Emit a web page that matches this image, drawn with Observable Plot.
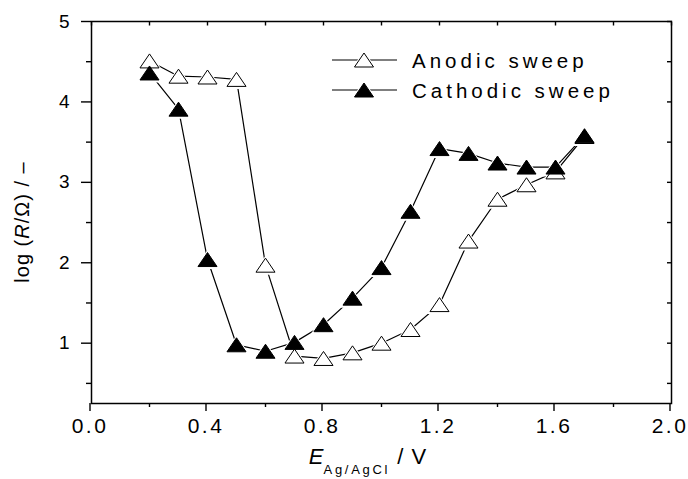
<!DOCTYPE html>
<html>
<head>
<meta charset="utf-8">
<script src="https://cdn.jsdelivr.net/npm/d3@7"></script>
<script src="https://cdn.jsdelivr.net/npm/@observablehq/plot@0.6"></script>
<style>
  body { margin: 0; background: white; }
  svg text { font-family: "Liberation Sans", Arial, sans-serif; }
  g[aria-label="x-axis tick label"] text { letter-spacing: 2.5px; font-size: 21px; }
  g[aria-label="y-axis tick label"] text { font-size: 19px; }
</style>
</head>
<body>
<div id="chart"></div>
<script>
// ---- data ----
const potential = [0.2, 0.3, 0.4, 0.5, 0.6, 0.7, 0.8, 0.9, 1.0, 1.1, 1.2, 1.3, 1.4, 1.5, 1.6, 1.7];
const anodic    = [4.51, 4.32, 4.31, 4.28, 1.97, 0.84, 0.81, 0.88, 1.00, 1.17, 1.48, 2.27, 2.79, 2.97, 3.13, 3.57];
const cathodic  = [4.36, 3.91, 2.04, 0.98, 0.90, 1.01, 1.23, 1.56, 1.94, 2.64, 3.42, 3.36, 3.24, 3.19, 3.19, 3.58];
const seriesNames = ["Anodic sweep", "Cathodic sweep"];
const xMajorTicks = [0.0, 0.4, 0.8, 1.2, 1.6, 2.0];
const xMinorTicks = [0.2, 0.6, 1.0, 1.4, 1.8];
const yMajorTicks = [1, 2, 3, 4, 5];
const yMinorTicks = [0.5, 1.5, 2.5, 3.5, 4.5];

const rows = [
  ...potential.map((e, i) => ({E: e, logR: anodic[i], series: seriesNames[0]})),
  ...potential.map((e, i) => ({E: e, logR: cathodic[i], series: seriesNames[1]}))
];

// flattened triangle symbol (wider than tall, like the original)
const flatTri = {
  draw(ctx, size) {
    const r = Math.sqrt(size / Math.PI);
    const hw = 1.36 * r, h = r;
    ctx.moveTo(0, -h);
    ctx.lineTo(hw, h);
    ctx.lineTo(-hw, h);
    ctx.closePath();
  }
};

const W = 688, H = 479, ML = 91, MR = 17, MT = 21, MB = 76;
const allX = [...xMajorTicks, ...xMinorTicks];
const allY = [...yMajorTicks, ...yMinorTicks];

const svg = Plot.plot({
  width: W, height: H,
  marginLeft: ML, marginRight: MR, marginTop: MT, marginBottom: MB,
  x: {domain: [0, 2]},
  y: {domain: [0.25, 5]},
  style: {fontFamily: "Liberation Sans, Arial, sans-serif", fontSize: "19px", color: "black", background: "white", overflow: "visible"},
  marks: [
    Plot.axisX({ticks: xMajorTicks, tickSize: 8, tickPadding: 7, tickFormat: d => d.toFixed(1), label: null, strokeWidth: 1.4, fontSize: 21, dx: -1.5}),
    Plot.axisX({ticks: xMinorTicks, tickSize: 4, text: null, label: null, strokeWidth: 1.4}),
    Plot.axisX({anchor: "top", ticks: allX, tickSize: -3.5, text: null, label: null, strokeWidth: 1.4}),
    Plot.axisY({ticks: yMajorTicks, tickSize: 10, tickPadding: 12, tickFormat: d => String(d), label: null, strokeWidth: 1.4, fontSize: 19}),
    Plot.axisY({ticks: yMinorTicks, tickSize: 5, text: null, label: null, strokeWidth: 1.4}),
    Plot.axisY({anchor: "right", ticks: allY, tickSize: -5, text: null, label: null, strokeWidth: 1.4}),
    Plot.frame({stroke: "black", strokeWidth: 1.5}),
    Plot.line(rows, {x: "E", y: "logR", z: "series", stroke: "black", strokeWidth: 1.2}),
    Plot.dot(rows, {x: "E", y: "logR", symbol: flatTri, r: 9.5, fill: "white", stroke: "none"}),
    Plot.dot(rows, {x: "E", y: "logR", symbol: flatTri, r: 7, fill: d => d.series === seriesNames[0] ? "white" : "black", stroke: "black", strokeWidth: 1})
  ]
});

const g = d3.select(svg).append("g").attr("fill", "black").attr("text-anchor", "start");

// axis titles
const xt = g.append("text").attr("x", 368).attr("y", 464).attr("text-anchor", "middle").attr("font-size", 22);
xt.append("tspan").attr("font-style", "italic").text("E");
xt.append("tspan").attr("font-size", 13).attr("dy", 10).attr("letter-spacing", "2.7px").text("Ag/AgCl");
xt.append("tspan").attr("dy", -10).attr("letter-spacing", "1px").text(" / V");

const yt = g.append("text").attr("transform", "translate(29,222) rotate(-90)").attr("text-anchor", "middle").attr("font-size", 20).attr("letter-spacing", "1px");
yt.append("tspan").text("log (");
yt.append("tspan").attr("font-style", "italic").text("R");
yt.append("tspan").text("/Ω) / –");

// legend
const legY = [60, 90];
const symPath = d3.symbol(flatTri, Math.PI * 49)();
const haloPath = d3.symbol(flatTri, Math.PI * 9.5 * 9.5)();
seriesNames.forEach((name, i) => {
  const lg = g.append("g").attr("transform", `translate(0,${legY[i]})`);
  lg.append("line").attr("x1", 332).attr("x2", 397).attr("y1", 0).attr("y2", 0).attr("stroke", "black").attr("stroke-width", 1.2);
  lg.append("path").attr("d", haloPath).attr("transform", "translate(364,0)").attr("fill", "white");
  lg.append("path").attr("d", symPath).attr("transform", "translate(364,0)").attr("fill", i === 0 ? "white" : "black").attr("stroke", "black").attr("stroke-width", 1);
  lg.append("text").attr("x", 412).attr("y", 7.5).attr("font-size", 20.5).attr("text-anchor", "start").attr("letter-spacing", "4px").text(name);
});

document.getElementById("chart").appendChild(svg);
</script>
</body>
</html>
